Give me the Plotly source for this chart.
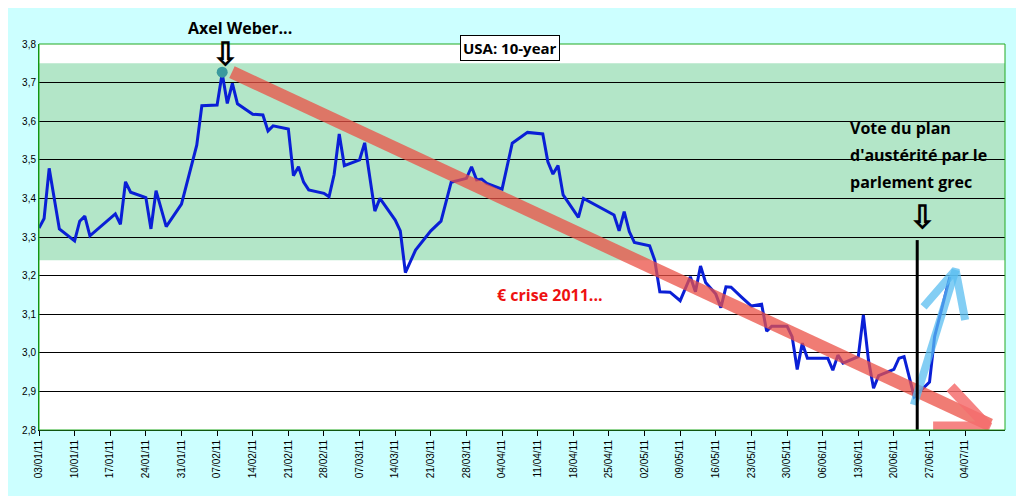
import plotly.graph_objects as go
import pandas as pd

dates = ["2011-01-03","2011-01-04","2011-01-05","2011-01-07","2011-01-10","2011-01-11","2011-01-12","2011-01-13",
"2011-01-18","2011-01-19","2011-01-20","2011-01-21","2011-01-24","2011-01-25","2011-01-26","2011-01-28","2011-01-31",
"2011-02-03","2011-02-04","2011-02-07","2011-02-08","2011-02-09","2011-02-10","2011-02-11","2011-02-14","2011-02-16",
"2011-02-17","2011-02-18","2011-02-21","2011-02-22","2011-02-23","2011-02-24","2011-02-25","2011-02-28","2011-03-01",
"2011-03-02","2011-03-03","2011-03-04","2011-03-07","2011-03-08","2011-03-10","2011-03-11","2011-03-14","2011-03-15",
"2011-03-16","2011-03-18","2011-03-21","2011-03-23","2011-03-25","2011-03-28","2011-03-29","2011-03-30","2011-03-31",
"2011-04-01","2011-04-04","2011-04-06","2011-04-09","2011-04-12","2011-04-13","2011-04-14","2011-04-15","2011-04-16",
"2011-04-19","2011-04-20","2011-04-26","2011-04-27","2011-04-28","2011-04-29","2011-04-30","2011-05-03","2011-05-04",
"2011-05-05","2011-05-07","2011-05-09","2011-05-11","2011-05-12","2011-05-13","2011-05-14","2011-05-16","2011-05-17",
"2011-05-18","2011-05-19","2011-05-21","2011-05-23","2011-05-25","2011-05-26","2011-05-27","2011-05-30","2011-05-31",
"2011-06-01","2011-06-02","2011-06-03","2011-06-07","2011-06-08","2011-06-09","2011-06-10","2011-06-13","2011-06-14",
"2011-06-15","2011-06-16","2011-06-17","2011-06-20","2011-06-21","2011-06-22","2011-06-24","2011-06-27","2011-06-28",
"2011-07-01"]
yields = [3.323,3.348,3.478,3.321,3.29,3.341,3.354,3.303,
3.36,3.333,3.443,3.416,3.402,3.321,3.42,3.327,3.385,
3.538,3.64,3.642,3.724,3.646,3.698,3.645,3.618,3.616,
3.575,3.588,3.58,3.459,3.482,3.442,3.422,3.413,3.404,
3.462,3.567,3.485,3.5,3.544,3.367,3.4,3.344,3.316,
3.208,3.266,3.316,3.341,3.442,3.452,3.482,3.448,3.45,
3.439,3.424,3.543,3.571,3.567,3.495,3.463,3.485,3.409,
3.351,3.4,3.357,3.316,3.366,3.314,3.286,3.277,3.24,
3.158,3.157,3.135,3.197,3.158,3.225,3.182,3.152,3.117,
3.171,3.17,3.145,3.121,3.126,3.056,3.069,3.069,3.042,
2.957,3.025,2.986,2.986,2.955,2.994,2.973,2.99,3.098,
2.981,2.908,2.941,2.957,2.986,2.99,2.886,2.924,3.042,
3.197]

tick_dates = pd.date_range("2011-01-03", "2011-07-04", freq="7D")
tick_labels = [d.strftime("%d/%m/%y") for d in tick_dates]

trend_x = ["2011-02-09 22:00", "2011-07-08 22:00"]
trend_y = [3.727, 2.813]
trend_head_x = ["2011-07-01 03:00", "2011-07-08 12:00", "2011-06-27 17:00"]
trend_head_y = [2.911, 2.808, 2.808]
blue_x = ["2011-06-23 22:00", "2011-07-02 03:00"]
blue_y = [2.865, 3.215]
blue_head_x = ["2011-06-25 20:00", "2011-07-02 03:00", "2011-07-04 00:00"]
blue_head_y = [3.119, 3.215, 3.085]

def px(x):
    return (x - 39) / 966
def py(y):
    return (430 - y) / 386

fig = go.Figure()
fig.add_hrect(y0=3.24, y1=3.75, fillcolor="#B3E6C8", line_width=0, layer="below")
fig.add_trace(go.Scatter(x=dates, y=yields, mode="lines", line=dict(color="#0A1FD6", width=3)))
fig.add_trace(go.Scatter(x=trend_x, y=trend_y, mode="lines", line=dict(color="rgba(235,80,70,0.75)", width=13)))
fig.add_trace(go.Scatter(x=trend_head_x, y=trend_head_y, mode="lines",
                         line=dict(color="rgba(245,110,110,0.85)", width=11)))
fig.add_trace(go.Scatter(x=blue_x, y=blue_y, mode="lines", line=dict(color="rgba(90,190,240,0.75)", width=8)))
fig.add_trace(go.Scatter(x=blue_head_x, y=blue_head_y, mode="lines", line=dict(color="rgba(90,190,240,0.75)", width=8)))
fig.add_trace(go.Scatter(x=["2011-02-08"], y=[3.727], mode="markers", marker=dict(color="#3A9A9E", size=11)))
fig.add_shape(type="line", x0="2011-06-24 14:00", x1="2011-06-24 14:00", y0=3.292, y1=2.74,
              line=dict(color="black", width=3))

font_b = "Open Sans"
anns = [
    dict(x=240, y=28, text="<b>Axel Weber...</b>", size=16, color="black"),
    dict(x=225, y=53, text="<b>⇩</b>", size=32, color="black"),
    dict(x=922, y=215, text="<b>⇩</b>", size=32, color="black"),
    dict(x=550, y=295, text="<b>€ crise 2011...</b>", size=16, color="#EE1111"),
]
for a in anns:
    fig.add_annotation(x=px(a["x"]), y=py(a["y"]), xref="paper", yref="paper", text=a["text"],
                       showarrow=False, font=dict(size=a["size"], color=a["color"], family=font_b),
                       xanchor="center", yanchor="middle")
for i, t in enumerate(["Vote du plan", "d'austérité par le", "parlement grec"]):
    fig.add_annotation(x=px(848), y=py(128 + i * 27), xref="paper", yref="paper", text="<b>" + t + "</b>",
                       showarrow=False, font=dict(size=16, color="black", family=font_b),
                       xanchor="left", yanchor="middle")
fig.add_annotation(x=px(510), y=py(35), xref="paper", yref="paper", text="<b>USA: 10-year</b>",
                   showarrow=False, font=dict(size=15, color="black", family=font_b),
                   bgcolor="white", bordercolor="black", borderwidth=1, borderpad=2)

fig.update_layout(
    width=1024, height=496, paper_bgcolor="#CCFFFF", plot_bgcolor="white",
    margin=dict(l=31, r=27, t=36, b=74), showlegend=False,
    xaxis=dict(range=["2011-01-03", "2011-07-11 20:00"], tickvals=list(tick_dates), ticktext=tick_labels,
               tickangle=-90, tickfont=dict(size=10, family="Arial", color="black"), showgrid=False,
               ticks="outside", ticklen=5, tickcolor="black", showline=True, linecolor="black"),
    yaxis=dict(range=[2.8, 3.8], dtick=0.1, tickformat=".1f",
               tickfont=dict(size=10, family="Arial", color="black"), showgrid=True, gridcolor="black", gridwidth=1,
               showline=True, linecolor="green", zeroline=False),
    separators=", ",
)
fig.add_shape(type="rect", xref="paper", yref="paper", x0=0, x1=1, y0=0, y1=1, line=dict(color="#22AA22", width=1))
fig.write_html("out.html")
